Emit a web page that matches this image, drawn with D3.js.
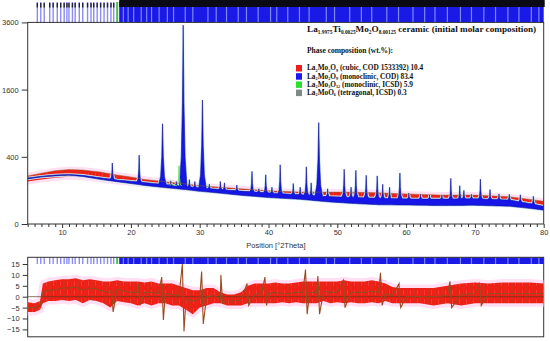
<!DOCTYPE html>
<html>
<head>
<meta charset="utf-8">
<script src="https://cdn.jsdelivr.net/npm/d3@7"></script>
<style>
  body { margin: 0; background: #fff; }
  svg { display: block; }
</style>
</head>
<body>
<div id="chart"></div>
<script>
// ---- data ----
// 2Theta grid for background / calculated base / observed band (top panel)
var baseX  = [5, 7, 9, 11, 13, 15.5, 18, 20, 22, 25, 27.2, 30, 33, 36, 40, 44.6, 48, 51.8, 56, 60, 65, 70, 75, 80];
var bgY    = [180, 195, 205, 210, 200, 177, 158, 145, 132, 117, 108, 95, 84, 73, 62, 54, 45, 38, 33, 32, 30, 31, 28, 17];
var calcY  = [188, 203, 213, 218, 210, 190, 172, 162, 152, 138, 128, 116, 106, 96, 86, 76, 68, 63, 59, 56, 55, 57, 51, 28];
var obsLo  = [160, 175, 190, 198, 194, 178, 160, 150, 140, 128, 118, 106, 96, 86, 76, 68, 62, 58, 55, 52, 50, 52, 46, 24];
var obsHi  = [205, 228, 252, 262, 258, 240, 212, 196, 176, 158, 146, 130, 120, 110, 98, 90, 90, 90, 86, 80, 74, 74, 66, 46];

// Bragg peaks: [2Theta, apex counts]
var peaks = [
  [17.3, 330], [21.2, 420], [24.6, 890], [25.8, 165], [26.6, 160], [27.6, 3500], [28.5, 175],
  [29.3, 160], [30.4, 1360], [31.4, 140], [33.0, 160], [33.6, 150], [35.4, 135], [37.6, 245],
  [38.6, 110], [39.6, 215], [40.5, 120], [41.7, 310], [43.6, 145], [44.6, 120], [45.5, 290],
  [46.2, 150], [47.3, 910], [48.6, 110], [51.0, 265], [52.0, 120], [52.7, 255], [54.2, 210],
  [55.8, 205], [56.6, 140], [57.6, 120], [59.1, 230], [60.4, 85], [62.1, 80], [63.4, 75],
  [65.2, 75], [66.5, 185], [67.8, 130], [68.4, 100], [69.5, 78], [70.8, 178], [72.2, 105],
  [73.5, 80], [75.0, 78], [76.6, 76], [78.5, 68]
];
var greenPeaks = [[27.0, 300], [25.9, 150]];

// reflection markers (2Theta)
var reflSparse = [6.4, 6.9, 7.4, 8.2, 8.7, 9.3, 9.8, 10.3, 10.7, 11.0, 11.5, 11.9, 12.5, 13.0,
                  13.7, 14.2, 14.6, 15.1, 15.6, 16.1, 16.6, 17.1, 17.5];
var reflGreen = [18.0];
var denseFrom = 18.3;
var reflGaps = [18.9, 19.6, 20.4, 21.5, 22.3, 23.0, 24.1, 25.3, 26.2, 27.9, 29.0, 31.2, 32.4, 33.9,
                35.6, 36.8, 38.5, 40.3, 41.2, 42.8, 44.5, 45.9, 48.4, 49.6, 51.8, 53.5, 55.0, 57.2,
                58.9, 61.0, 62.7, 64.2, 66.0, 67.9, 69.5, 71.3, 73.0, 74.8, 76.4, 78.2, 79.3];

// difference curve band
var diffX   = [5, 6, 6.8, 7.2, 8, 9, 10, 11, 12, 13, 14, 15, 16, 17, 18, 19, 20, 21, 22, 23, 24, 25, 26,
               27, 28, 29, 30, 31, 32, 33, 34, 35, 36, 37, 38, 39, 40, 41, 42, 43, 44, 45, 46, 47, 48,
               49, 50, 51, 52, 53, 54, 55, 56, 57, 58, 59, 60, 62, 64, 66, 68, 70, 72, 74, 76, 78, 80];
var diffLo  = [-7, -7, -6, -3, -2, -2, -1.5, -2, -1.5, -3, -1.5, -2, -3, -5, -2, -2.5, -3, -4, -3, -4, -3, -3, -4,
               -4, -6, -8, -5, -4, -3, -3, -4, -4, -4, -3, -3, -3, -3, -3, -2.5, -3, -2.5, -3, -3, -3, -2,
               -3, -2.5, -3, -2.5, -3, -3, -2.5, -3, -2, -3, -3, -3, -3, -4, -3, -4, -3, -3, -3, -3, -3, -3];
var diffHi  = [-2.5, -3, -2, 6, 7, 7.5, 8, 8, 8.5, 7.5, 8, 7.5, 7, 7, 7.5, 7, 7, 7, 6.5, 7, 6, 6, 6,
               5, 4, 3, 3, 4, 4, 2, 1, 1, 2, 5, 6, 6, 6, 6.5, 6, 6, 6.5, 7, 7, 7, 7,
               7, 7, 7.5, 7, 7, 7, 7.5, 7, 6, 4.5, 4, 4, 4, 4, 5, 6, 6.5, 6, 6.5, 6.5, 6.5, 6];
var diffMid = [-5, -5, -4, 2, 3, 3, 4, 4, 4.5, 3, 4, 3.5, 2.5, 2, 3.5, 2.5, 2, 2, 2, 2, 1.5, 1.5, 1,
               0.5, -1, -2, -1, 0, 0.5, -1, -2, -2, -1.5, 0.5, 1, 1.5, 1.5, 2, 1.5, 1.5, 2, 2, 2, 2, 2.5,
               2, 2, 2.5, 2, 2, 2, 2.5, 2, 1.5, 0.5, 0, 0, 0, 0, 0.5, 1, 1.5, 1.5, 1.5, 1.5, 1.5, 1.5];
// [2Theta, up, down]
var diffSpikes = [[17.3, 3, -7], [21.2, 6, -4], [24.6, 9, -10.7], [27.6, 15, -16], [30.4, 11.5, -12.5],
                  [33.2, 10, -3], [37.0, 6, -4], [39.6, 9, -4], [45.5, 12.5, -8], [47.3, 9.5, -8],
                  [51.0, 7.5, -5], [56.4, 11, -4], [59.1, 6, -5], [66.5, 7, -5], [70.8, 6, -4]];

var yTicksTop = [0, 400, 1600, 3600];
var yTicksDiff = [-15, -10, -5, 0, 5, 10, 15];
var xLabelTicks = [10, 20, 30, 40, 50, 60, 70, 80];

var legendRows = [
  {color: '#ee1c1c', parts: [['La'], ['2', 1], ['Mo'], ['2', 1], ['O'], ['9', 1], [' (cubic, COD 1533392) 10.4']]},
  {color: '#1818f0', parts: [['La'], ['2', 1], ['Mo'], ['2', 1], ['O'], ['9', 1], [' (monoclinic, COD) 83.4']]},
  {color: '#2ee02e', parts: [['La'], ['2', 1], ['Mo'], ['3', 1], ['O'], ['12', 1], [' (monoclinic, ICSD) 5.9']]},
  {color: '#7f8a88', parts: [['La'], ['2', 1], ['MoO'], ['6', 1], [' (tetragonal, ICSD) 0.3']]}
];
var titleParts = [['La'], ['1.9975', 1], ['Ti'], ['0.0025', 1], ['Mo'], ['2', 1], ['O'], ['8.00125', 1],
                  [' ceramic (initial molar composition)']];

// ---- drawing ----
var svg = d3.select('#chart').append('svg').attr('width', 550).attr('height', 341);

var x = d3.scaleLinear().domain([5, 80]).range([27.7, 543.7]);
var yTop = d3.scaleSqrt().domain([0, 3600]).range([224, 22.4]);
var yDiff = d3.scaleLinear().domain([-15, 15]).range([329.4, 264]);

var bgAt = d3.scaleLinear().domain(baseX).range(bgY);
var calcAt = d3.scaleLinear().domain(baseX).range(calcY);

var defs = svg.append('defs');
defs.append('clipPath').attr('id', 'clipTop').append('rect')
  .attr('x', x(5)).attr('y', yTop(3600)).attr('width', x(80) - x(5)).attr('height', yTop(0) - yTop(3600));
defs.append('clipPath').attr('id', 'clipDiff').append('rect')
  .attr('x', x(5)).attr('y', 257.3).attr('width', x(80) - x(5)).attr('height', 79.5);

// streaky texture for the noisy observed / difference bands
var pat = defs.append('pattern').attr('id', 'streaks').attr('patternUnits', 'userSpaceOnUse')
  .attr('width', 7).attr('height', 9);
pat.append('rect').attr('width', 7).attr('height', 9).attr('fill', '#f01e14');
pat.append('line').attr('x1', 1.2).attr('x2', 1.2).attr('y1', 0).attr('y2', 9)
  .attr('stroke', '#a0522d').attr('stroke-width', 0.6).attr('opacity', 0.7);
pat.append('line').attr('x1', 4.3).attr('x2', 4.3).attr('y1', 2).attr('y2', 7)
  .attr('stroke', '#ff8aa0').attr('stroke-width', 0.5).attr('opacity', 0.6);

// peak shape offsets (fraction of half width, fraction of height)
var shape = [[-1, 0], [-0.5, 0.08], [-0.2, 0.35], [0, 1], [0.2, 0.35], [0.5, 0.08], [1, 0]];
function halfW(p) { return p[1] > 800 ? 0.55 : (p[1] > 200 ? 0.35 : 0.3); }

function buildProfile(list, withBase) {
  var feet = list.map(function(p) { return [p[0] - halfW(p), p[0] + halfW(p)]; });
  var pts = [];
  if (withBase) {
    baseX.forEach(function(t, i) {
      var inside = feet.some(function(f) { return t > f[0] && t < f[1]; });
      if (!inside) pts.push({t: t, v: calcY[i]});
    });
  }
  list.forEach(function(p) {
    var w = halfW(p), b = calcAt(p[0]);
    shape.forEach(function(s) {
      var t = p[0] + s[0] * w;
      pts.push({t: t, v: calcAt(t) + s[1] * (p[1] - b)});
    });
  });
  return pts.sort(function(a, b) { return a.t - b.t; });
}

var gTop = svg.append('g').attr('clip-path', 'url(#clipTop)');

// observed band with pink halo
var obsArea = d3.area()
  .x(function(d, i) { return x(baseX[i]); })
  .y0(function(d, i) { return yTop(obsLo[i]); })
  .y1(function(d, i) { return yTop(obsHi[i]); });
gTop.append('path').datum(baseX).attr('d', obsArea)
  .attr('fill', '#ffd2f0').attr('stroke', '#ffd2f0').attr('stroke-width', 6)
  .attr('stroke-linejoin', 'round').attr('opacity', 0.7);
gTop.append('path').datum(baseX).attr('d', obsArea)
  .attr('fill', 'url(#streaks)');

// calculated profile, filled from background
var profile = buildProfile(peaks, true);
var calcArea = d3.area()
  .x(function(d) { return x(d.t); })
  .y0(function(d) { return yTop(bgAt(d.t)); })
  .y1(function(d) { return yTop(d.v); });
gTop.append('path').datum(profile).attr('d', calcArea)
  .attr('fill', 'none').attr('stroke', '#dcf4ff').attr('stroke-width', 2.5);
gTop.append('path').datum(profile).attr('d', calcArea)
  .attr('fill', '#1616e8').attr('stroke', '#10108a').attr('stroke-width', 0.6);

// minor phase contribution
var greenProf = buildProfile(greenPeaks, false);
gTop.append('path').datum(greenProf)
  .attr('d', d3.line().x(function(d) { return x(d.t); }).y(function(d) { return yTop(d.v); }))
  .attr('fill', 'none').attr('stroke', '#5ee05a').attr('stroke-width', 0.9);

// observed upper edge (brownish)
gTop.append('path').datum(baseX)
  .attr('d', d3.line().x(function(d, i) { return x(baseX[i]); }).y(function(d, i) { return yTop(obsHi[i]); }))
  .attr('fill', 'none').attr('stroke', '#8a6428').attr('stroke-width', 0.7).attr('opacity', 0.7);

// reflection marker bands
function markerBand(y0, y1, darkTop) {
  var g = svg.append('g');
  g.append('rect').attr('x', x(denseFrom)).attr('y', y0)
    .attr('width', x(80) - x(denseFrom)).attr('height', y1 - y0).attr('fill', '#1a1ae6');
  g.selectAll('line.gap').data(reflGaps).enter().append('line')
    .attr('x1', function(d) { return x(d); }).attr('x2', function(d) { return x(d); })
    .attr('y1', y0).attr('y2', y1).attr('stroke', '#7c86ff').attr('stroke-width', 1.2);
  g.selectAll('line.sp').data(reflSparse).enter().append('line')
    .attr('x1', function(d) { return x(d); }).attr('x2', function(d) { return x(d); })
    .attr('y1', y0).attr('y2', y1).attr('stroke', '#8c8cf4').attr('stroke-width', 1.4);
  g.selectAll('line.gr').data(reflGreen).enter().append('line')
    .attr('x1', function(d) { return x(d); }).attr('x2', function(d) { return x(d); })
    .attr('y1', y0).attr('y2', y1).attr('stroke', '#4cc050').attr('stroke-width', 2);
  if (darkTop) {
    g.append('rect').attr('x', x(denseFrom)).attr('y', 0)
      .attr('width', x(80) - x(denseFrom) + 1).attr('height', 7).attr('fill', '#0a0a14');
    g.selectAll('line.tp').data(reflSparse).enter().append('line')
      .attr('x1', function(d) { return x(d); }).attr('x2', function(d) { return x(d); })
      .attr('y1', 3).attr('y2', 7.5).attr('stroke', '#202030').attr('stroke-width', 1.4);
  }
}
markerBand(2, 22.4, true);
markerBand(257.3, 264, false);

// frames
svg.append('rect').attr('x', x(5)).attr('y', yTop(3600))
  .attr('width', x(80) - x(5)).attr('height', yTop(0) - yTop(3600))
  .attr('fill', 'none').attr('stroke', '#333').attr('stroke-width', 1);
svg.append('rect').attr('x', x(5)).attr('y', 257.3)
  .attr('width', x(80) - x(5)).attr('height', 79.5)
  .attr('fill', 'none').attr('stroke', '#333').attr('stroke-width', 1);

// axes
function styleAxis(g) {
  g.select('.domain').remove();
  g.selectAll('line').attr('stroke', '#333');
  g.selectAll('text').attr('font-family', 'Liberation Sans, Arial, sans-serif')
    .attr('font-size', 7.5).attr('fill', '#333');
}
var yAxisTop = d3.axisLeft(yTop).tickValues(yTicksTop).tickSize(6).tickPadding(3).tickFormat(d3.format('d'));
svg.append('g').attr('transform', 'translate(' + x(5) + ',0)').call(yAxisTop).call(styleAxis);

var xAxis = d3.axisBottom(x).tickValues(d3.range(5, 81)).tickSize(3).tickPadding(3)
  .tickFormat(function(d) { return xLabelTicks.indexOf(d) >= 0 ? d : ''; });
var gx = svg.append('g').attr('transform', 'translate(0,' + yTop(0) + ')').call(xAxis).call(styleAxis);
gx.selectAll('.tick').filter(function(d) { return d % 10 === 0; }).select('line').attr('y2', 4);

svg.append('text').attr('x', 276).attr('y', 248).attr('text-anchor', 'middle')
  .attr('font-family', 'Liberation Sans, Arial, sans-serif').attr('font-size', 7.5).attr('fill', '#333')
  .text('Position [\u00b02Theta]');

var yAxisDiff = d3.axisLeft(yDiff).tickValues(yTicksDiff).tickSize(5).tickPadding(3);
svg.append('g').attr('transform', 'translate(' + x(5) + ',0)').call(yAxisDiff).call(styleAxis);

// difference panel
var dg = svg.append('g').attr('clip-path', 'url(#clipDiff)');
var diffArea = d3.area()
  .x(function(d, i) { return x(diffX[i]); })
  .y0(function(d, i) { return yDiff(diffLo[i]); })
  .y1(function(d, i) { return yDiff(diffHi[i]); });
dg.append('path').datum(diffX).attr('d', diffArea)
  .attr('fill', '#ffd2f0').attr('stroke', '#ffd2f0').attr('stroke-width', 7)
  .attr('stroke-linejoin', 'round').attr('opacity', 0.7);
dg.append('path').datum(diffX).attr('d', diffArea).attr('fill', 'url(#streaks)');
dg.append('line').attr('x1', x(5)).attr('x2', x(80)).attr('y1', yDiff(0)).attr('y2', yDiff(0))
  .attr('stroke', '#5a3a20').attr('stroke-width', 0.7);

var diffPts = diffX.map(function(t, i) { return {t: t, v: diffMid[i]}; });
diffSpikes.forEach(function(s) {
  diffPts.push({t: s[0] - 0.12, v: s[1]});
  diffPts.push({t: s[0] + 0.12, v: s[2]});
});
diffPts.sort(function(a, b) { return a.t - b.t; });
dg.append('path').datum(diffPts)
  .attr('d', d3.line().x(function(d) { return x(d.t); }).y(function(d) { return yDiff(d.v); }))
  .attr('fill', 'none').attr('stroke', '#9a4a20').attr('stroke-width', 1.1);

// legend and title
function chem(sel, parts, size) {
  var shift = 0;
  parts.forEach(function(p) {
    var want = p[1] ? size * 0.2 : 0;
    var ts = sel.append('tspan').text(p[0]).attr('dy', want - shift);
    if (p[1]) ts.attr('font-size', size * 0.58);
    shift = want;
  });
}
var serif = 'Liberation Serif, Times New Roman, serif';
var title = svg.append('text').attr('x', 307).attr('y', 32)
  .attr('font-family', serif).attr('font-weight', 'bold').attr('font-size', 9.2).attr('fill', '#111');
chem(title, titleParts, 9.2);

svg.append('text').attr('x', 307).attr('y', 52.5)
  .attr('font-family', serif).attr('font-weight', 'bold').attr('font-size', 7.5).attr('fill', '#111')
  .text('Phase composition (wt.%):');

legendRows.forEach(function(r, i) {
  var yy = 65 + i * 8.2;
  svg.append('rect').attr('x', 296).attr('y', yy).attr('width', 6).attr('height', 6.5).attr('fill', r.color);
  var t = svg.append('text').attr('x', 307).attr('y', yy + 5.3)
    .attr('font-family', serif).attr('font-weight', 'bold').attr('font-size', 7.3).attr('fill', '#111');
  chem(t, r.parts, 7.3);
});
</script>
</body>
</html>
